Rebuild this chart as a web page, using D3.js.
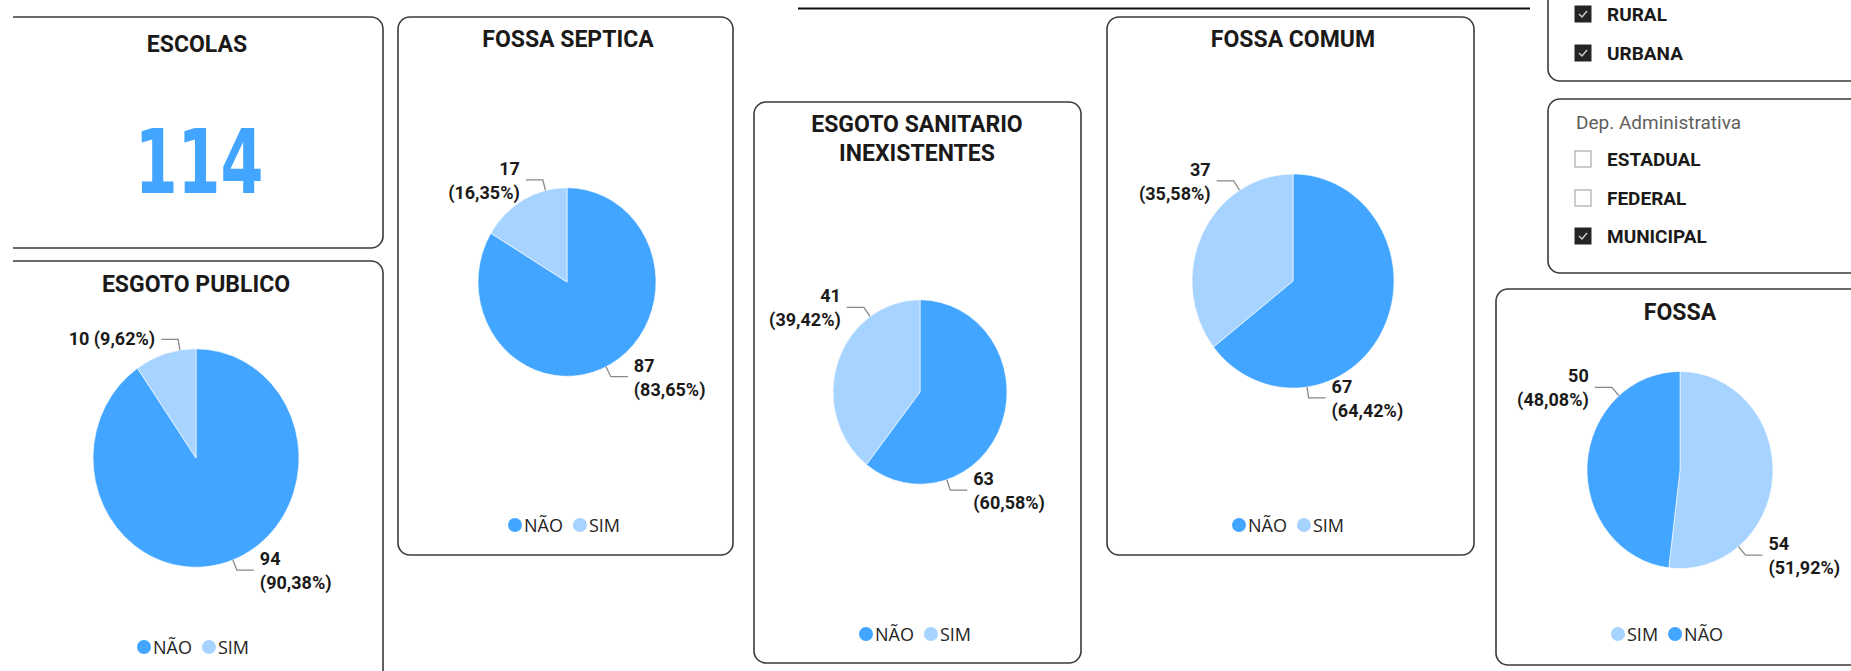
<!DOCTYPE html>
<html>
<head>
<meta charset="utf-8">
<script src="https://cdn.jsdelivr.net/npm/d3@7"></script>
<style>
  body { margin: 0; background: #fff; }
  svg { display: block; }
</style>
</head>
<body>
<svg id="dash" width="1851" height="671"></svg>
<script>
// numbers
var totalEscolas = 114;
var chartTitles = [["ESGOTO PUBLICO"], ["FOSSA SEPTICA"], ["ESGOTO SANITARIO", "INEXISTENTES"], ["FOSSA COMUM"], ["FOSSA"]];
var chartCategories = [["NÃO", "SIM"], ["NÃO", "SIM"], ["NÃO", "SIM"], ["NÃO", "SIM"], ["SIM", "NÃO"]];
var chartValues = [[94, 10], [87, 17], [63, 41], [67, 37], [54, 50]];

var zonaItems = ["RURAL", "URBANA"];
var zonaChecked = [true, true];
var depTitle = "Dep. Administrativa";
var depItems = ["ESTADUAL", "FEDERAL", "MUNICIPAL"];
var depChecked = [false, false, true];

var colors = {
    "NÃO": "#42a5ff",
    "SIM": "#a6d3ff",
    border: "#3b3a39",
    text: "#1b1a19",
    connector: "#8a8886"
};

var fonts = {
    title: "Roboto, 'DejaVu Sans', sans-serif",
    big: "'Liberation Sans Narrow', 'DejaVu Sans Condensed', Roboto, sans-serif",
    legend: "'Open Sans', 'Noto Sans', sans-serif"
};

// pies look a little taller than wide in the screenshot
var stretchY = 1.06;

// layout of each pie card, same order as the arrays above
var panels = [
    { card: [2, 261, 381, 450], titleX: 196, titleY: [292], cx: 196, cy: 458, r: 103, legendX: 193, legendY: 647, angles: [159, 351], oneLine: [false, true] },
    { card: [398, 17, 335, 538], titleX: 568, titleY: [47], cx: 567, cy: 282, r: 89, legendX: 564, legendY: 525, angles: [154, 346], oneLine: [false, false] },
    { card: [754, 102, 327, 561], titleX: 917, titleY: [132, 161], cx: 920, cy: 392, r: 87, legendX: 915, legendY: 634, angles: [162, 325], oneLine: [false, false] },
    { card: [1107, 17, 367, 538], titleX: 1293, titleY: [47], cx: 1293, cy: 281, r: 101, legendX: 1288, legendY: 525, angles: [172, 328], oneLine: [false, false] },
    { card: [1496, 289, 400, 376], titleX: 1680, titleY: [320], cx: 1680, cy: 470, r: 93, legendX: 1667, legendY: 634, angles: [141, 319], oneLine: [false, false] }
];

var svg = d3.select("#dash");

function card(x, y, w, h) {
    svg.append("rect")
        .attr("x", x).attr("y", y)
        .attr("width", w).attr("height", h)
        .attr("rx", 12).attr("ry", 12)
        .attr("fill", "#fff")
        .attr("stroke", colors.border)
        .attr("stroke-width", 1.6);
}

function pct(v, total) {
    return d3.format(".2f")(v / total * 100).replace(".", ",") + "%";
}

// top divider line
svg.append("line")
    .attr("x1", 798).attr("x2", 1530)
    .attr("y1", 8.5).attr("y2", 8.5)
    .attr("stroke", "#111").attr("stroke-width", 2);

// ESCOLAS card
card(2, 17, 381, 231);
svg.append("text")
    .attr("x", 197).attr("y", 52)
    .attr("text-anchor", "middle")
    .attr("font-family", fonts.title).attr("font-weight", 700).attr("font-size", 23)
    .attr("fill", colors.text)
    .text("ESCOLAS");
// the report font is condensed, so squeeze the number horizontally
svg.append("text")
    .attr("transform", "translate(199,193) scale(0.77,1)")
    .attr("text-anchor", "middle")
    .attr("font-family", fonts.big).attr("font-weight", 700).attr("font-size", 89)
    .attr("fill", colors["NÃO"])
    .text(totalEscolas);

// pie cards
var pie = d3.pie().sort(null).value(function (d) { return d.value; });

panels.forEach(function (p, i) {
    card(p.card[0], p.card[1], p.card[2], p.card[3]);

    chartTitles[i].forEach(function (line, j) {
        svg.append("text")
            .attr("x", p.titleX).attr("y", p.titleY[j])
            .attr("text-anchor", "middle")
            .attr("font-family", fonts.title).attr("font-weight", 700).attr("font-size", 23)
            .attr("fill", colors.text)
            .text(line);
    });

    var rows = chartCategories[i].map(function (c, k) {
        return { cat: c, value: chartValues[i][k] };
    });
    var total = d3.sum(rows, function (d) { return d.value; });
    var arcs = pie(rows);
    var arc = d3.arc().innerRadius(0).outerRadius(p.r);

    svg.append("g")
        .attr("transform", "translate(" + p.cx + "," + p.cy + ") scale(1," + stretchY + ")")
        .selectAll("path")
        .data(arcs)
        .enter()
        .append("path")
            .attr("d", arc)
            .attr("fill", function (d) { return colors[d.data.cat]; })
            .attr("stroke", "#fff")
            .attr("stroke-width", 0.6);

    // data labels with elbow connectors
    arcs.forEach(function (d, k) {
        var a = p.angles[k] * Math.PI / 180;
        var ux = Math.sin(a), uy = -Math.cos(a) * stretchY;
        var x0 = p.cx + p.r * ux, y0 = p.cy + p.r * uy;
        var x1 = x0 + 11 * Math.sin(a), y1 = y0 - 11 * Math.cos(a);
        var side = ux >= 0 ? 1 : -1;
        var x2 = x1 + side * 17;

        svg.append("path")
            .attr("d", "M" + x0 + "," + y0 + "L" + x1 + "," + y1 + "L" + x2 + "," + y1)
            .attr("fill", "none")
            .attr("stroke", colors.connector)
            .attr("stroke-width", 1.3);

        var t = svg.append("text")
            .attr("text-anchor", side > 0 ? "start" : "end")
            .attr("font-family", fonts.title).attr("font-weight", 700).attr("font-size", 18)
            .attr("fill", colors.text);
        var tx = x2 + side * 6;
        if (p.oneLine[k]) {
            t.attr("x", tx).attr("y", y1 + 6)
                .text(d.data.value + " (" + pct(d.data.value, total) + ")");
        } else {
            t.append("tspan").attr("x", tx).attr("y", y1 - 5).text(d.data.value);
            t.append("tspan").attr("x", tx).attr("y", y1 + 19).text("(" + pct(d.data.value, total) + ")");
        }
    });

    // legend, centred under the pie
    var lg = svg.append("g");
    var xpos = 0;
    rows.forEach(function (d) {
        lg.append("circle")
            .attr("cx", xpos + 7).attr("cy", 0).attr("r", 7)
            .attr("fill", colors[d.cat]);
        var lt = lg.append("text")
            .attr("x", xpos + 16).attr("y", 6.5)
            .attr("font-family", fonts.legend).attr("font-size", 18)
            .attr("fill", "#252423")
            .text(d.cat);
        xpos += 16 + lt.node().getComputedTextLength() + 10;
    });
    xpos -= 10;
    lg.attr("transform", "translate(" + (p.legendX - xpos / 2) + "," + p.legendY + ")");
});

// slicers on the right
function checkbox(x, y, on) {
    svg.append("rect")
        .attr("x", x).attr("y", y - 8)
        .attr("width", 16).attr("height", 16)
        .attr("fill", on ? "#252423" : "#fff")
        .attr("stroke", on ? "#252423" : "#9a9a9a")
        .attr("stroke-width", 1);
    if (on) {
        svg.append("path")
            .attr("d", "M" + (x + 4) + "," + (y) + "L" + (x + 7) + "," + (y + 3) + "L" + (x + 12) + "," + (y - 3))
            .attr("fill", "none")
            .attr("stroke", "#d0d0d0")
            .attr("stroke-width", 1.4);
    }
}

function slicerItem(label, y, on) {
    checkbox(1575, y, on);
    svg.append("text")
        .attr("x", 1607).attr("y", y + 7)
        .attr("font-family", fonts.title).attr("font-weight", 700).attr("font-size", 19)
        .attr("fill", colors.text)
        .text(label);
}

card(1548, -30, 340, 111);
var zonaY = [14, 53];
zonaItems.forEach(function (z, i) { slicerItem(z, zonaY[i], zonaChecked[i]); });

card(1548, 99, 340, 174);
svg.append("text")
    .attr("x", 1576).attr("y", 129)
    .attr("font-family", fonts.title).attr("font-size", 19)
    .attr("fill", "#605e5c")
    .text(depTitle);
var depY = [159, 198, 236];
depItems.forEach(function (z, i) { slicerItem(z, depY[i], depChecked[i]); });

// left edge of the page is cut off in the screenshot
svg.append("rect").attr("x", 0).attr("y", 0).attr("width", 13).attr("height", 671).attr("fill", "#fff");
</script>
</body>
</html>
